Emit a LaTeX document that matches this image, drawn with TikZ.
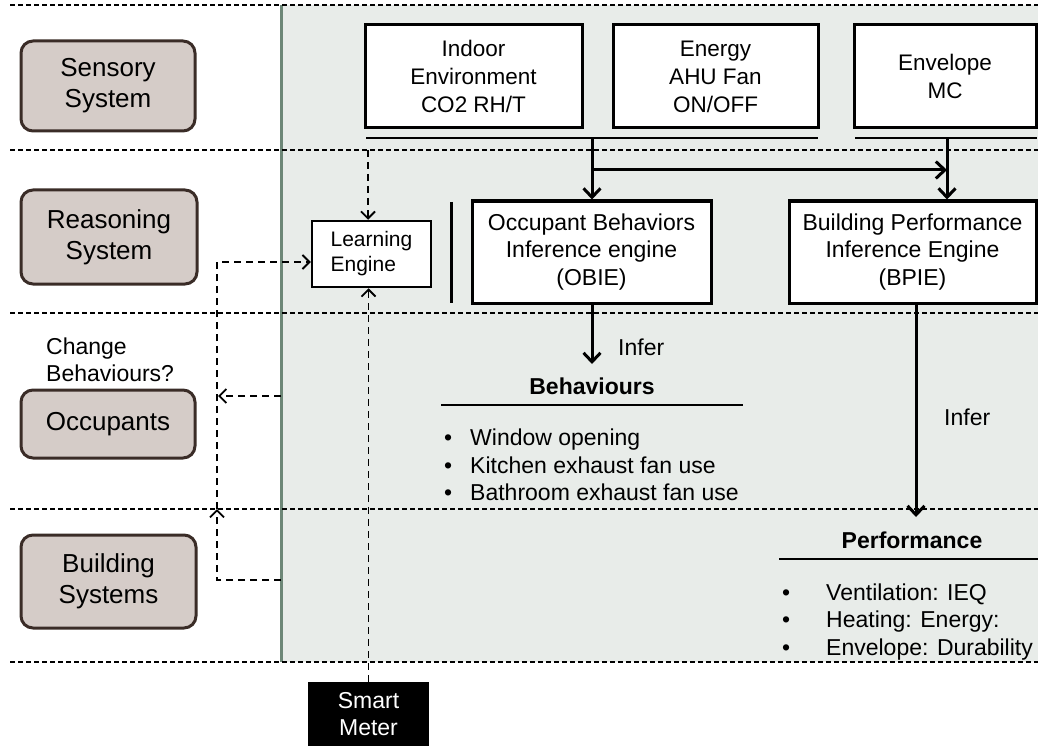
\documentclass[tikz,border=0pt]{standalone}
\usepackage{fontspec}
\setmainfont{Liberation Sans}
\usetikzlibrary{arrows.meta}
\definecolor{panel}{HTML}{E8ECE9}
\definecolor{paneledge}{HTML}{6D8777}
\definecolor{layerfill}{HTML}{D5CCC8}
\definecolor{layeredge}{HTML}{3A2C27}
\tikzset{
  txt/.style={font=\fontsize{23}{27.5}\selectfont, inner sep=0pt, align=center},
  boldtxt/.style={font=\fontsize{23}{27.5}\selectfont\bfseries, inner sep=0pt},
  layer/.style={draw=layeredge, fill=layerfill, line width=3pt, rounded corners=12pt, inner sep=0pt, align=center, font=\fontsize{26}{31}\selectfont},
  sensorbox/.style={draw=black, fill=white, line width=3pt, inner sep=0pt, align=center, font=\fontsize{22.5}{28}\selectfont},
  lane/.style={draw=black, line width=1.6pt, dash pattern=on 5pt off 3pt},
  flow/.style={line width=3pt, -{Straight Barb[length=9pt,width=17pt]}},
  dline/.style={line width=1.8pt, dash pattern=on 7pt off 5pt},
  dflow/.style={dline, -{Straight Barb[length=7pt,width=14pt]}},
}
\begin{document}
\begin{tikzpicture}[x=1pt,y=-1pt]
\useasboundingbox (0,0) rectangle (1038,746);
% panel
\fill[panel] (281,5) rectangle (1038,662);
\draw[paneledge, line width=3pt] (281,5) -- (281,662);
% lanes
\foreach \yy in {5,150,313,509,662} \draw[lane] (10,\yy) -- (1038,\yy);

% layer boxes
\node[layer, minimum width=174, minimum height=90] (sens) at (108,86) {Sensory\\System};
\node[layer, minimum width=176, minimum height=94] (reas) at (109,237) {Reasoning\\System};
\node[layer, minimum width=174, minimum height=68] (occ) at (108,424) {Occupants};
\node[layer, minimum width=175, minimum height=93] (bsys) at (108.5,581.5) {Building\\Systems};
\node[txt, align=left, anchor=west] (chg) at (46,360) {Change\\Behaviours?};

% sensors
\node[sensorbox, minimum width=217, minimum height=103] (indoor) at (473.5,76.5) {Indoor\\Environment\\CO2 RH/T};
\node[sensorbox, minimum width=205, minimum height=103] (energy) at (715.5,76.5) {Energy\\AHU Fan\\ON/OFF};
\node[sensorbox, minimum width=182, minimum height=103] (envel) at (945,76.5) {Envelope\\MC};
\draw[line width=2.5pt] (366,138) -- (818,138);
\draw[line width=2.5pt] (855,138) -- (1037,138);
\coordinate (u1) at (592,138);
\coordinate (u2) at (947,138);
\coordinate (j) at (592,170);

% reasoning
\node[draw=black, fill=white, line width=2.5pt, minimum width=119, minimum height=66, inner sep=0pt, align=left, font=\fontsize{21}{25}\selectfont] (learn) at (371.5,254) {Learning\\Engine};
\draw[line width=3pt] (451,202) -- (451,303);
\node[sensorbox, minimum width=239, minimum height=102, font=\fontsize{23}{27.5}\selectfont] (obie) at (591.5,252) {Occupant Behaviors\\Inference engine\\(OBIE)};
\node[sensorbox, minimum width=247, minimum height=102, font=\fontsize{23}{27.5}\selectfont] (bpie) at (912.5,252) {Building Performance\\Inference Engine\\(BPIE)};

\draw[flow] (u1) -- (u1 |- obie.north);
\draw[flow] (j) -- (j -| u2);
\draw[flow] (u2) -- (u2 |- bpie.north);

% behaviours
\coordinate (obout) at (592,303);
\coordinate (obend) at (592,364);
\draw[flow] (obout) -- (obend);
\node[txt, anchor=west] (inf1) at (618,347) {Infer};
\node[boldtxt] (behav) at (592,386) {Behaviours};
\draw[line width=2pt] (441,405) -- (743,405);
\node[txt, anchor=base west] (bb1) at (444,445) {•};
\node[txt, anchor=base west] (bt1) at (470,445) {Window opening};
\node[txt, anchor=base west] (bb2) at (444,473) {•};
\node[txt, anchor=base west] (bt2) at (470,473) {Kitchen exhaust fan use};
\node[txt, anchor=base west] (bb3) at (444,500) {•};
\node[txt, anchor=base west] (bt3) at (470,500) {Bathroom exhaust fan use};

% performance
\coordinate (bpout) at (916,303);
\coordinate (bpend) at (916,517);
\draw[flow] (bpout) -- (bpend);
\node[txt, anchor=west] (inf2) at (944,417) {Infer};
\node[boldtxt] (perf) at (912,540) {Performance};
\draw[line width=2pt] (779,559) -- (1038,559);
\node[txt, anchor=base west] (pb1) at (782,600) {•};
\node[txt, anchor=base west] (pt1) at (826,600) {Ventilation: IEQ};
\node[txt, anchor=base west] (pb2) at (782,627) {•};
\node[txt, anchor=base west] (pt2) at (826,627) {Heating: Energy:};
\node[txt, anchor=base west] (pb3) at (782,655) {•};
\node[txt, anchor=base west] (pt3) at (826,655) {Envelope: Durability};

% smart meter
\node[fill=black, draw=black, minimum width=120, minimum height=64, text=white, txt] (smart) at (368.5,714) {Smart\\Meter};

% dashed connectors
\coordinate (lanetop) at (368,150);
\draw[dflow] (lanetop) -- (lanetop |- learn.north);
\draw[dflow] (smart.north) -- (smart.north |- learn.south);
\coordinate (bsout) at (281,580);
\coordinate (corner) at (217,580);
\coordinate (uptip) at (217,509);
\coordinate (topcorner) at (217,262);
\draw[dflow] (bsout) -- (corner) -- (uptip);
\draw[dflow] (uptip) -- (topcorner) -- (topcorner -| learn.west);
\coordinate (ocout) at (281,396);
\coordinate (octip) at (218,396);
\draw[dflow] (ocout) -- (octip);
\end{tikzpicture}
\end{document}
